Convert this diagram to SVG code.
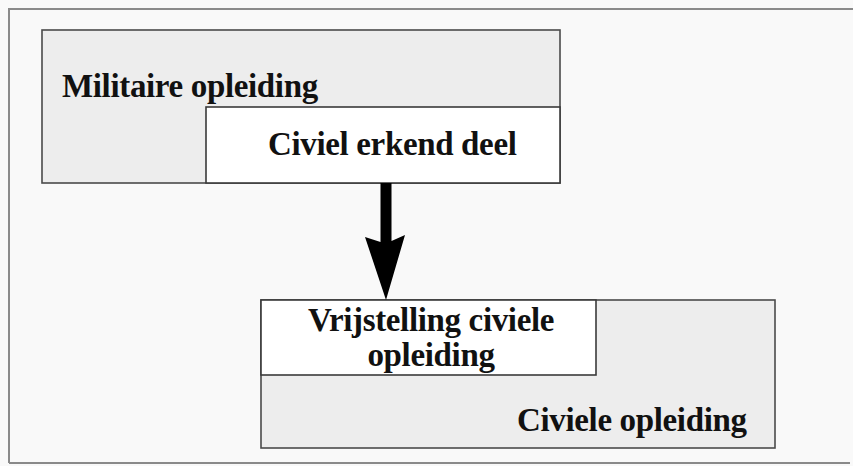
<svg xmlns="http://www.w3.org/2000/svg" width="853" height="466" viewBox="0 0 853 466">
  <style>
    .frame { fill: none; stroke: #8a8a8a; stroke-width: 2; }
    .outer { fill: #ededed; stroke: #4a4a4a; stroke-width: 1.6; }
    .inner { fill: #ffffff; stroke: #3a3a3a; stroke-width: 1.6; }
    .label { font-family: "Liberation Serif", "Times New Roman", serif; font-weight: bold; font-size: 33px; letter-spacing: -0.35px; fill: #111111; }
    .arrow { fill: #000000; }
  </style>

  <!-- page background and surrounding frame -->
  <rect x="0" y="0" width="853" height="466" fill="#f9f9f9"/>
  <path class="frame" d="M9,463 V9 H853 M9,463 H850"/>

  <!-- military training with its civilly recognised part -->
  <g id="militaire-opleiding">
    <rect class="outer" x="42" y="30" width="518" height="153"/>
    <text class="label" x="62" y="97">Militaire opleiding</text>
  </g>
  <g id="civiel-erkend-deel">
    <rect class="inner" x="206" y="107" width="354" height="76"/>
    <text class="label" x="268" y="155">Civiel erkend deel</text>
  </g>

  <!-- civil training with the exempted part -->
  <g id="civiele-opleiding">
    <rect class="outer" x="261" y="300" width="514" height="148"/>
    <text class="label" x="517" y="431">Civiele opleiding</text>
  </g>
  <g id="vrijstelling">
    <rect class="inner" x="261" y="300" width="335" height="75"/>
    <text class="label" x="431" y="331" text-anchor="middle">Vrijstelling civiele</text>
    <text class="label" x="431" y="366" text-anchor="middle">opleiding</text>
  </g>

  <!-- connector: recognised part grants exemption -->
  <g id="connectors">
    <path class="arrow" d="M380.5,183 H391.5 V241 L405,235 L386,300 L365,237 L380.5,242 Z"/>
  </g>
</svg>
